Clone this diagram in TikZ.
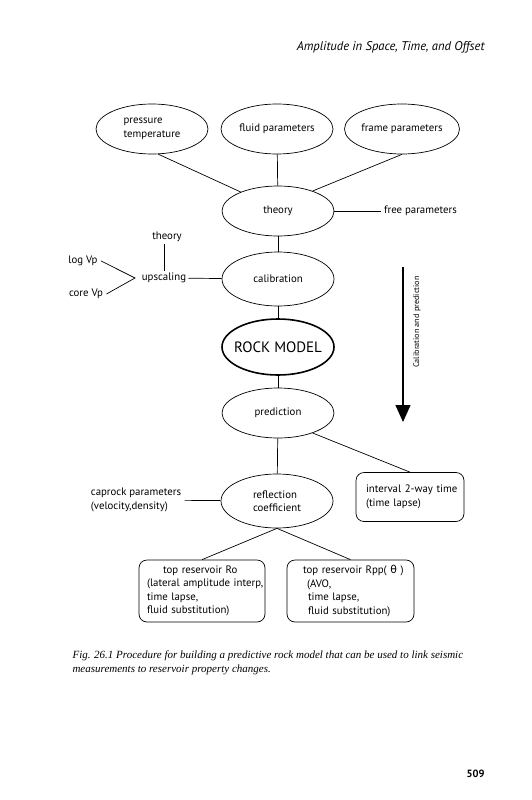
\documentclass[tikz,border=0pt]{standalone}
\usepackage{fontspec}
\setmainfont{PT Sans}
\newfontfamily\capfont{Liberation Serif}
\newfontfamily\grk{DejaVu Sans}
\usetikzlibrary{shapes.geometric,arrows.meta}
\begin{document}
\begin{tikzpicture}[x=1pt,y=-1pt,
  txt/.style={font=\fontsize{10.8}{13.4}\selectfont},
  oval/.style={ellipse,draw,line width=0.7,minimum width=112,minimum height=50,inner xsep=-4pt,inner ysep=0pt,txt},
  conn/.style={draw,line width=0.7},
  rbox/.style={draw,line width=0.7,rounded corners=8,minimum height=62,inner sep=0,txt,align=left}
]
\useasboundingbox (0,0) rectangle (531,800);
\fill[white] (0,0) rectangle (531,800);

% header and footer
\node[anchor=base east,font=\fontsize{12.6}{14}\selectfont\itshape] (hdr) at (488,51) {Amplitude in Space, Time, and Offset};
\node[anchor=base west,font=\capfont\itshape\fontsize{11}{14}\selectfont] (cap1) at (69,658) {Fig. 26.1 Procedure for building a predictive rock model that can be used to link seismic};
\node[anchor=base west,font=\capfont\itshape\fontsize{11}{14}\selectfont] (cap2) at (69,672) {measurements to reservoir property changes.};
\node[anchor=base east,font=\fontsize{10.5}{12}\selectfont\bfseries] (pg) at (488,777) {509};

% top row
\node[oval,align=left] (pt) at (152,129) {pressure\\temperature};
\node[oval] (fluid) at (277,129) {fluid parameters};
\node[oval,minimum width=115] (frame) at (402,129) {frame parameters};

% main column
\node[oval] (theory) at (278,211) {theory};
\node[txt,anchor=west,inner sep=3] (free) at (381,211) {free parameters};
\node[oval,minimum height=54] (calib) at (278,279) {calibration};
\node[oval,minimum height=56,line width=1.6,inner xsep=-9pt,font=\fontsize{15}{18}\selectfont] (rock) at (278,347) {ROCK MODEL};
\node[oval] (pred) at (278,413) {prediction};
\node[oval,minimum height=54,align=left] (refl) at (277,501) {reflection\\coefficient};

% left side
\node[txt,inner sep=2] (th2) at (167,237) {theory};
\node[txt,inner sep=2] (up) at (164,278) {upscaling};
\node[txt] (log) at (83,261) {log Vp};
\node[txt] (core) at (86,294) {core Vp};
\coordinate (v) at (135,278);
\node[txt,align=left] (cap) at (136,500) {caprock parameters\\(velocity,density)};

% boxes
\node[rbox,minimum width=108,minimum height=49,text width=100] (int) at (410,497) {\hspace*{6pt}interval 2-way time\\\hspace*{6pt}(time lapse)};
\node[rbox,minimum width=126,text width=124] (ro) at (202,591) {\hspace*{23pt}top reservoir Ro\\\hspace*{7pt}(lateral amplitude interp,\\\hspace*{7pt}time lapse,\\\hspace*{7pt}fluid substitution)};
\node[rbox,minimum width=127,text width=124] (rpp) at (350.5,591) {\hspace*{14.5pt}top reservoir Rpp( {\grk θ} )\\\hspace*{18.5pt}(AVO,\\\hspace*{19.5pt}time lapse,\\\hspace*{19.5pt}fluid substitution)};

% arrow
\coordinate (atop) at (403,267);
\coordinate (abot) at (403,422);
\draw[line width=1.2,-{Triangle[length=17,width=15]}] (atop) -- (abot);
\node[font=\fontsize{8.2}{10}\selectfont,rotate=90] (cp) at (417,322) {Calibration and prediction};

% connectors
\draw[conn] (pt.-76) -- (theory.153);
\draw[conn] (fluid) -- (theory);
\draw[conn] (frame.south) -- (theory.30);
\draw[conn] (theory) -- (free);
\draw[conn] (theory) -- (calib);
\draw[conn] (th2.south -| up.north) -- (up.north);
\draw[conn] (up) -- (calib);
\draw[conn] (log.east) -- (v) -- (core.east);
\draw[conn] (calib) -- (rock);
\draw[conn] (rock) -- (pred);
\draw[conn] (pred) -- (refl);
\draw[conn] (pred.-30) -- (int.north);
\draw[conn] (cap) -- (refl);
\draw[conn] (refl.south) -- (ro.north);
\draw[conn] (refl.south) -- (rpp.north);
\end{tikzpicture}
\end{document}
